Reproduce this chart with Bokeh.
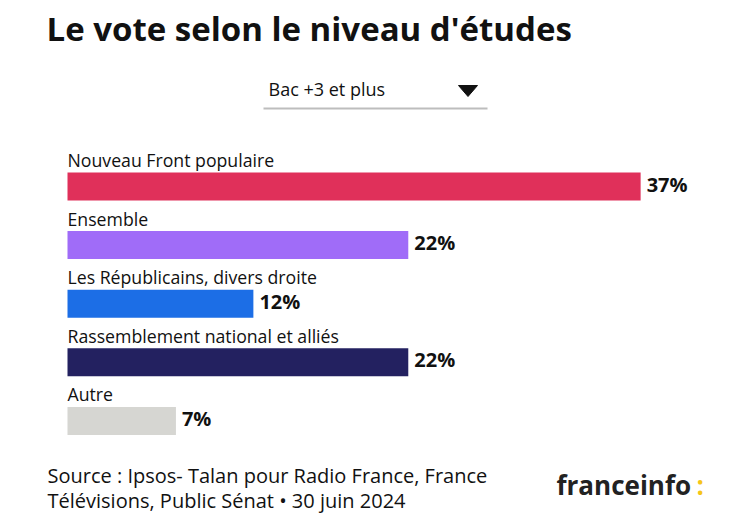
from bokeh.plotting import figure
from bokeh.models import Range1d, ColumnDataSource
from bokeh.embed import file_html
from bokeh.resources import INLINE
from bokeh.core.properties import value

# ---- data ----
parties = ["Nouveau Front populaire", "Ensemble", "Les Républicains, divers droite",
           "Rassemblement national et alliés", "Autre"]
shares = [37, 22, 12, 22, 7]
colors = ["#e0305a", "#a06cf8", "#1c6ee6", "#232160", "#d6d6d2"]
title_text = "Le vote selon le niveau d'études"
selector_text = "Bac +3 et plus"
source_lines = ["Source : Ipsos- Talan pour Radio France, France",
                "Télévisions, Public Sénat • 30 juin 2024"]

W, H = 742, 519
PX_PER = 15.49
X0 = 67
FONT = "Open Sans"

p = figure(width=W, height=H, output_backend="svg", toolbar_location=None,
           x_range=Range1d(-X0 / PX_PER, (W - X0) / PX_PER),
           y_range=Range1d(H, 0), min_border=0)
p.extra_x_ranges = {"px": Range1d(0, W)}
p.xaxis.visible = False
p.yaxis.visible = False
p.grid.visible = False
p.outline_line_color = None
p.background_fill_color = "white"
p.border_fill_color = "white"

ys = [186 + i * 58.6 for i in range(len(parties))]
src = ColumnDataSource(dict(party=parties, share=shares, color=colors, y=ys,
                            ylab=[y - 26.5 for y in ys],
                            lab=[f"{v}%" for v in shares], zero=[0] * len(parties)))

p.hbar(y="y", left=0, right="share", height=28, color="color", line_color=None, source=src)
p.text(x="zero", y="ylab", text="party", source=src, text_font=value(FONT),
       text_font_size="17.7px", text_color="#111111", text_baseline="middle")
p.text(x="share", y="y", text="lab", source=src, x_offset=6, y_offset=-2.5,
       text_font=value(FONT), text_font_size="20px", text_font_style="bold",
       text_color="#111111", text_baseline="middle")

# title
p.text(x=[46], y=[28], text=[title_text], x_range_name="px", text_font=value(FONT),
       text_font_size="33px", text_font_style="bold", text_color="#111111",
       text_baseline="middle")

# selector
p.text(x=[268], y=[88.5], text=[selector_text], x_range_name="px", text_font=value(FONT),
       text_font_size="18px", text_color="#111111", text_baseline="middle")
p.patch(x=[458, 477, 467.5], y=[85, 85, 96], color="#111111", x_range_name="px")
p.line(x=[263, 487], y=[108, 108], line_width=2, color="#bdbdbd", x_range_name="px")

# source
p.text(x=[47, 47], y=[474.5, 499.5], text=source_lines, x_range_name="px",
       text_font=value(FONT), text_font_size="20px", text_color="#111111",
       text_baseline="middle")

# logo
p.text(x=[556], y=[484], text=["franceinfo"], x_range_name="px", text_font=value(FONT),
       text_font_size="26px", text_font_style="bold", text_color="#222222",
       text_baseline="middle")
p.text(x=[696], y=[484], text=[":"], x_range_name="px", text_font=value(FONT),
       text_font_size="26px", text_font_style="bold", text_color="#f5c518",
       text_baseline="middle")

open("out.html", "w").write(file_html(p, INLINE))
